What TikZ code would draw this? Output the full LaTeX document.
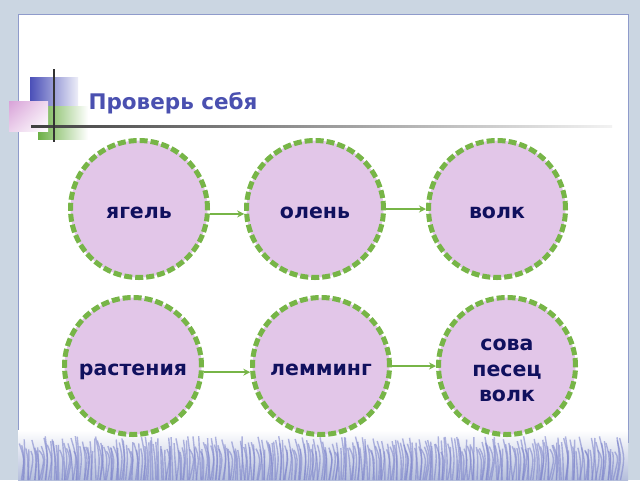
\documentclass[tikz,border=0pt]{standalone}
\usepackage{fontspec}
\setmainfont{DejaVu Sans}
\usepackage{tikz}
\usetikzlibrary{arrows.meta, shadings}

\definecolor{frame}{HTML}{CBD6E2}
\definecolor{frameline}{HTML}{8F9BCB}
\definecolor{bubble}{HTML}{E2C6E8}
\definecolor{rim}{HTML}{77B547}
\definecolor{ink}{HTML}{10105E}
\definecolor{headblue}{HTML}{4A50B0}
\definecolor{sqblue}{HTML}{4B50B8}
\definecolor{sqgreen}{HTML}{6CB046}
\definecolor{sqpink}{HTML}{D8A2D8}
\definecolor{frost}{HTML}{7F86CC}

\tikzset{
  bubblenode/.style = {circle, minimum size = 137pt, inner sep = 0pt,
    fill = bubble, draw = rim, line width = 5pt,
    dash pattern = on 8pt off 3pt, line cap = butt,
    text = ink, font = \fontsize{20.5}{25.5}\selectfont\bfseries, align = center,
    text height = 18pt, text depth = 0pt},
  link/.style = {draw = rim, line width = 2pt, -{Stealth[length=7pt, width=7pt]}},
  streak/.style = {frost, line width = 1.4pt, opacity = 0.6}
}

\begin{document}
\begin{tikzpicture}[x = 1pt, y = -1pt]
  \useasboundingbox (0, 0) rectangle (640, 480);

  % frame and page
  \fill[frame] (0, 0) rectangle (640, 480);
  \fill[white, draw = frameline, line width = 0.8pt] (18, 14) rectangle (628, 442);

  % frost at the bottom
  \shade[top color = white, bottom color = frame!70!frost] (18, 430) rectangle (628, 480);
  \pgfmathsetseed{7}
  \foreach \i in {0, ..., 300} {
    \draw[streak] (19 + \i*2 + rnd*2, 436 + rnd*16)
      .. controls (20 + \i*2 + rnd*5, 458) .. (19 + \i*2 + rnd*4, 480);
  }

  % title decoration
  \shade[left color = sqblue, middle color = sqblue!85, right color = sqblue!10]
    (30, 77) rectangle (78, 126);
  \shade[left color = sqgreen, middle color = sqgreen!85, right color = white]
    (38, 106) rectangle (88, 139);
  \shade[upper left = sqpink, lower right = white, upper right = sqpink!40,
    lower left = sqpink!50] (9, 101) rectangle (48, 131);
  \shade[left color = black!75, right color = black!5] (31, 125) rectangle (612, 127.5);
  \draw[black!80, line width = 1.5pt] (54, 69) -- (54, 142);

  \node[anchor = west, text = headblue, font = \fontsize{21.5}{25}\selectfont\bfseries]
    (title) at (85, 103) {Проверь себя};

  % food chains
  \node[bubblenode] (yagel) at (139, 209) {ягель};
  \node[bubblenode] (olen) at (315, 209) {олень};
  \node[bubblenode] (volk) at (497, 209) {волк};

  \node[bubblenode] (rast) at (133, 366) {растения};
  \node[bubblenode] (lemm) at (321, 366) {лемминг};
  \node[bubblenode, text height = 71pt] (hunt) at (507, 366) {сова\\песец\\волк};

  \draw[link] (yagel.-4) -- (olen.184);
  \draw[link] (olen) -- (volk);
  \draw[link] (rast.-5) -- (lemm.185);
  \draw[link] (lemm) -- (hunt);

\end{tikzpicture}
\end{document}
